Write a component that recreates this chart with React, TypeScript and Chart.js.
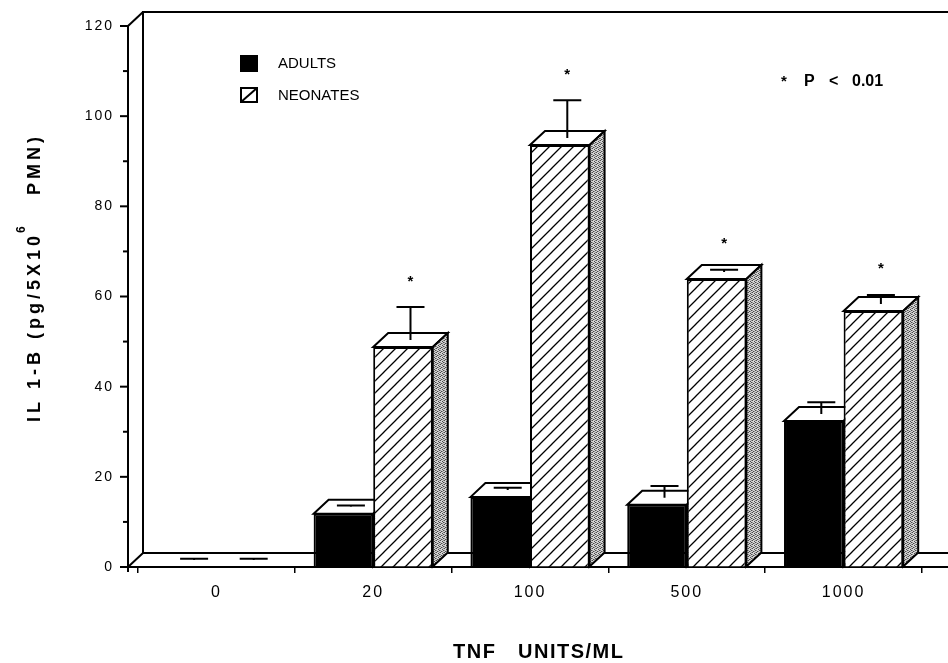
import React, { useEffect, useRef } from 'react';
import { Chart, registerables } from 'chart.js';

Chart.register(...registerables);

const categories = ['0', '20', '100', '500', '1000'];
const adults = [0, 11.8, 15.5, 13.8, 32.4];
const adultsSem = [0.3, 0.3, 0.5, 2.6, 2.6];
const neonates = [0, 48.8, 93.6, 63.9, 56.8];
const neonatesSem = [0.3, 7.3, 8.4, 0.5, 2.0];
const significant = [false, true, true, true, true];
const yTicks = [0, 20, 40, 60, 80, 100, 120];

const FONT = '"Liberation Sans", Arial, Helvetica, sans-serif';
const DX = 15;
const DY = 14;
const AXIS_X = 128;

function makeHatch(): CanvasPattern | string {
  const c = document.createElement('canvas');
  c.width = 12;
  c.height = 12;
  const g = c.getContext('2d');
  if (!g) return '#fff';
  g.fillStyle = '#fff';
  g.fillRect(0, 0, 12, 12);
  g.strokeStyle = '#000';
  g.lineWidth = 1.3;
  g.beginPath();
  g.moveTo(-1, 13); g.lineTo(13, -1);
  g.moveTo(-1, 1); g.lineTo(1, -1);
  g.moveTo(11, 13); g.lineTo(13, 11);
  g.stroke();
  return g.createPattern(c, 'repeat') || '#fff';
}

function makeStipple(): CanvasPattern | string {
  const c = document.createElement('canvas');
  c.width = 4;
  c.height = 4;
  const g = c.getContext('2d');
  if (!g) return '#bbb';
  g.fillStyle = '#d2d2d2';
  g.fillRect(0, 0, 4, 4);
  g.fillStyle = '#4a4a4a';
  [[0, 0], [2, 1], [1, 3], [3, 2]].forEach(([x, y]) => g.fillRect(x, y, 1, 1));
  g.fillStyle = '#909090';
  [[2, 3], [0, 2], [3, 0]].forEach(([x, y]) => g.fillRect(x, y, 1, 1));
  return g.createPattern(c, 'repeat') || '#bbb';
}

export default function App() {
  const ref = useRef<HTMLCanvasElement>(null);

  useEffect(() => {
    const canvas = ref.current;
    if (!canvas) return;
    const hatch = makeHatch();
    const stipple = makeStipple();
    const sems = [adultsSem, neonatesSem];

    const plugin = {
      id: 'figure3d',
      beforeDraw(chart: any) {
        const ctx = chart.ctx;
        ctx.save();
        ctx.fillStyle = '#fff';
        ctx.fillRect(0, 0, chart.width, chart.height);
        ctx.restore();
        ctx.letterSpacing = '2px';
      },
      beforeDatasetsDraw(chart: any) {
        const ctx = chart.ctx;
        ctx.letterSpacing = '0px';
        const ys = chart.scales.y;
        const W = chart.width;
        const y0 = ys.getPixelForValue(ys.min);
        const yT = ys.getPixelForValue(ys.max);
        ctx.save();
        ctx.strokeStyle = '#000';
        ctx.lineWidth = 2;
        ctx.lineJoin = 'miter';
        // floor slab
        ctx.fillStyle = '#fff';
        ctx.beginPath();
        ctx.moveTo(AXIS_X, y0);
        ctx.lineTo(AXIS_X + DX, y0 - DY);
        ctx.lineTo(W + 5, y0 - DY);
        ctx.lineTo(W + 5, y0);
        ctx.closePath();
        ctx.fill();
        ctx.stroke();
        // back wall
        ctx.beginPath();
        ctx.moveTo(AXIS_X + DX, y0 - DY);
        ctx.lineTo(AXIS_X + DX, yT - DY);
        ctx.lineTo(W + 5, yT - DY);
        ctx.stroke();
        // side wall top edge
        ctx.beginPath();
        ctx.moveTo(AXIS_X, yT);
        ctx.lineTo(AXIS_X + DX, yT - DY);
        ctx.stroke();
        // y axis
        ctx.beginPath();
        ctx.moveTo(AXIS_X, yT);
        ctx.lineTo(AXIS_X, y0 + 5);
        ctx.stroke();
        // y ticks (major + minor)
        const step = yTicks[1] - yTicks[0];
        for (let v = ys.min; v <= ys.max + 0.001; v += step / 2) {
          const yy = ys.getPixelForValue(v);
          const major = Math.abs((v / step) - Math.round(v / step)) < 1e-6;
          ctx.beginPath();
          ctx.moveTo(AXIS_X - (major ? 8 : 5), yy);
          ctx.lineTo(AXIS_X, yy);
          ctx.stroke();
        }
        // bar extrusions
        chart.data.datasets.forEach((ds: any, di: number) => {
          const meta = chart.getDatasetMeta(di);
          meta.data.forEach((el: any, i: number) => {
            const v = ds.data[i];
            if (!(v > 0)) return;
            const p = el.getProps(['x', 'y', 'base', 'width'], true);
            const x0 = p.x - p.width / 2;
            const x1 = p.x + p.width / 2;
            ctx.fillStyle = '#fff';
            ctx.beginPath();
            ctx.moveTo(x0, p.y);
            ctx.lineTo(x0 + DX, p.y - DY);
            ctx.lineTo(x1 + DX, p.y - DY);
            ctx.lineTo(x1, p.y);
            ctx.closePath();
            ctx.fill();
            ctx.stroke();
            ctx.fillStyle = stipple;
            ctx.beginPath();
            ctx.moveTo(x1, p.y);
            ctx.lineTo(x1 + DX, p.y - DY);
            ctx.lineTo(x1 + DX, p.base - DY);
            ctx.lineTo(x1, p.base);
            ctx.closePath();
            ctx.fill();
            ctx.stroke();
          });
        });
        ctx.restore();
      },
      afterDatasetsDraw(chart: any) {
        const ctx = chart.ctx;
        const ys = chart.scales.y;
        ctx.save();
        ctx.strokeStyle = '#000';
        ctx.fillStyle = '#000';
        ctx.lineWidth = 2;
        ctx.letterSpacing = '0px';
        // error bars and significance stars
        chart.data.datasets.forEach((ds: any, di: number) => {
          const meta = chart.getDatasetMeta(di);
          meta.data.forEach((el: any, i: number) => {
            const v = ds.data[i];
            const e = sems[di][i];
            const cx = el.x + DX / 2;
            const yb = ys.getPixelForValue(v) - DY / 2;
            const yt = ys.getPixelForValue(v + e) - DY / 2;
            ctx.beginPath();
            ctx.moveTo(cx, yb);
            ctx.lineTo(cx, yt);
            ctx.moveTo(cx - 14, yt);
            ctx.lineTo(cx + 14, yt);
            ctx.stroke();
            if (di === 1 && significant[i]) {
              ctx.font = 'bold 15px ' + FONT;
              ctx.textAlign = 'center';
              ctx.textBaseline = 'alphabetic';
              ctx.fillText('*', cx, yt - 30 + 8.5);
            }
          });
        });

        // legend
        ctx.fillRect(240, 55, 18, 17);
        ctx.lineWidth = 2;
        ctx.strokeRect(241, 88, 16, 14);
        ctx.beginPath();
        ctx.moveTo(241, 102);
        ctx.lineTo(257, 88);
        ctx.stroke();
        ctx.font = '15px ' + FONT;
        ctx.textAlign = 'left';
        ctx.textBaseline = 'middle';
        ctx.fillText(chart.data.datasets[0].label, 278, 64);
        ctx.fillText(chart.data.datasets[1].label, 278, 96);

        // significance note
        ctx.textBaseline = 'alphabetic';
        ctx.font = 'bold 15px ' + FONT;
        ctx.fillText('*', 781, 86);
        ctx.font = 'bold 16px ' + FONT;
        ctx.fillText('P', 804, 86);
        ctx.fillText('<', 829, 86);
        ctx.fillText('0.01', 852, 86);

        // x title
        ctx.font = 'bold 20px ' + FONT;
        ctx.letterSpacing = '1.5px';
        ctx.fillText('TNF', 453, 658);
        ctx.fillText('UNITS/ML', 518, 658);

        // y title (rotated)
        ctx.translate(40, 422);
        ctx.rotate(-Math.PI / 2);
        ctx.font = 'bold 18px ' + FONT;
        ctx.letterSpacing = '4px';
        const main = 'IL 1-B (pg/5X10';
        ctx.fillText(main, 0, 0);
        const wA = ctx.measureText(main).width;
        ctx.font = 'bold 12px ' + FONT;
        ctx.letterSpacing = '0px';
        ctx.fillText('6', wA - 1, -15);
        ctx.font = 'bold 18px ' + FONT;
        ctx.letterSpacing = '4px';
        ctx.fillText('PMN)', wA + 37, 0);
        ctx.restore();
      },
    };

    const chart = new Chart(canvas, {
      type: 'bar',
      data: {
        labels: categories,
        datasets: [
          {
            label: 'ADULTS',
            data: adults,
            backgroundColor: '#000',
            borderColor: '#000',
            borderWidth: 2,
            categoryPercentage: 0.76,
            barPercentage: 1,
          },
          {
            label: 'NEONATES',
            data: neonates,
            backgroundColor: hatch as any,
            borderColor: '#000',
            borderWidth: 2,
            categoryPercentage: 0.76,
            barPercentage: 1,
          },
        ],
      },
      options: {
        responsive: false,
        animation: false,
        layout: { padding: { top: 26, right: 26, left: 0, bottom: 0 } },
        plugins: {
          legend: { display: false },
          tooltip: { enabled: false },
        },
        scales: {
          x: {
            type: 'category',
            offset: true,
            grid: {
              offset: true,
              drawOnChartArea: false,
              drawTicks: true,
              tickLength: 6,
              color: '#000',
              lineWidth: 1.5,
            },
            border: { display: false },
            ticks: {
              color: '#000',
              font: { family: FONT, size: 16 },
              padding: 10,
              maxRotation: 0,
              autoSkip: false,
            },
            afterFit: (s: any) => { s.height = 96; },
          },
          y: {
            min: yTicks[0],
            max: yTicks[yTicks.length - 1],
            grid: {
              drawOnChartArea: false,
              drawTicks: true,
              tickLength: 14,
              color: 'rgba(0,0,0,0)',
            },
            border: { display: false },
            ticks: {
              stepSize: yTicks[1] - yTicks[0],
              color: '#000',
              font: { family: FONT, size: 14 },
              padding: 10,
            },
            afterFit: (s: any) => { s.width = 138; },
          },
        },
      },
      plugins: [plugin],
    } as any);

    return () => chart.destroy();
  }, []);

  return (
    <div style={{ position: 'absolute', left: 0, top: 0, width: 948, height: 663, background: '#fff' }}>
      <canvas ref={ref} width={948} height={663} style={{ display: 'block', width: 948, height: 663 }} />
    </div>
  );
}
